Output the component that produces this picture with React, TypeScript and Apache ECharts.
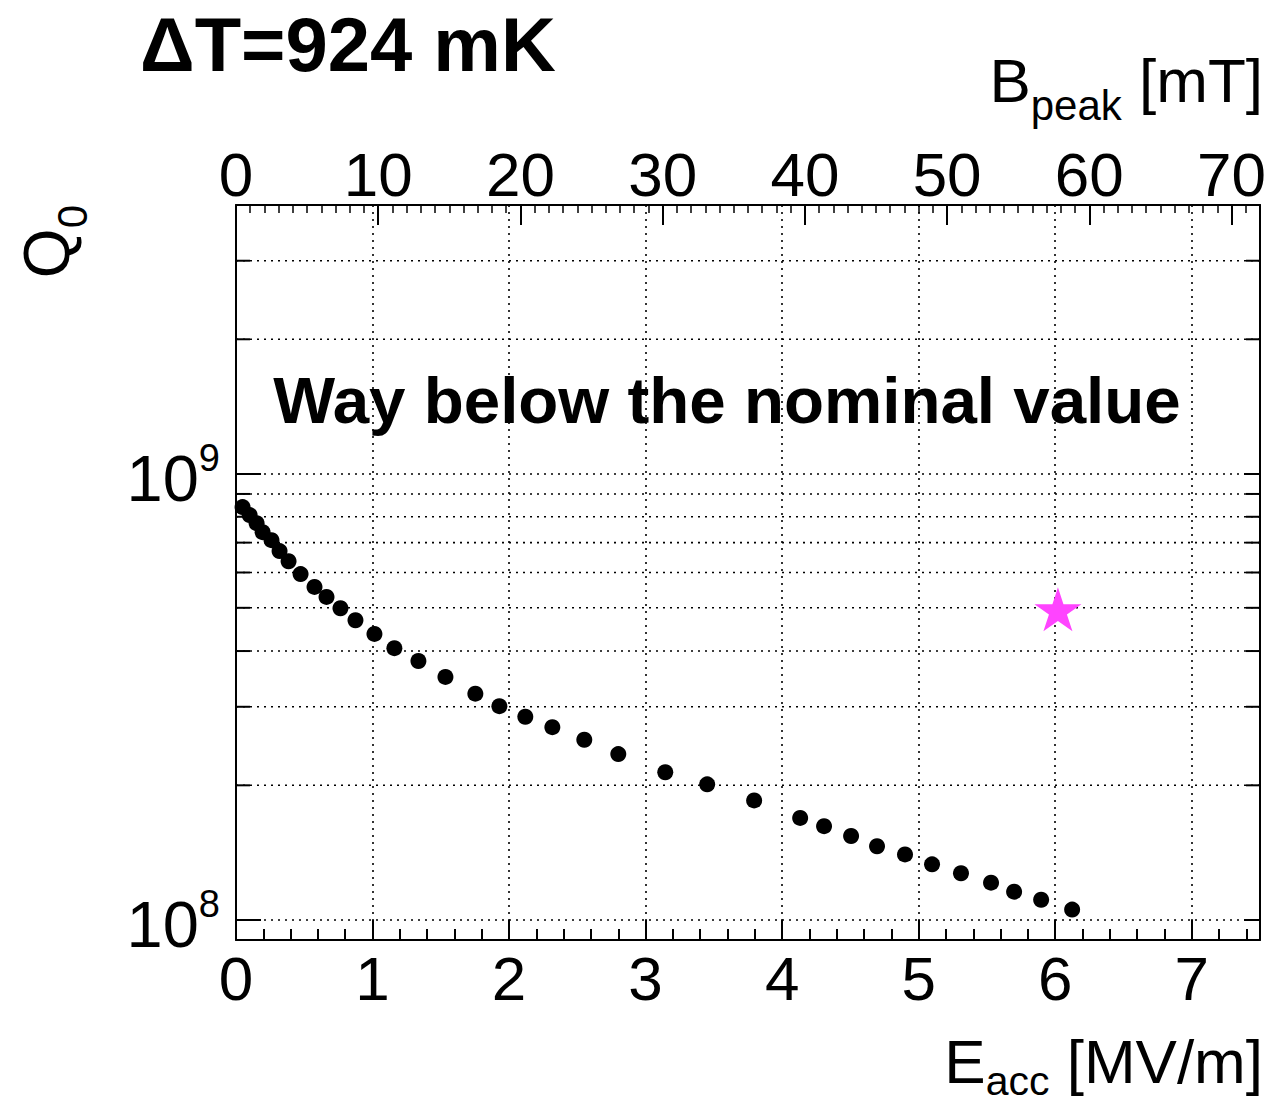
import React, { useEffect, useRef } from "react";
import * as echarts from "echarts";

// Accelerating gradient E_acc [MV/m]
const eacc = [
  0.048, 0.1, 0.151, 0.195, 0.26, 0.319, 0.385, 0.473, 0.575, 0.663, 0.765, 0.875,
  1.014, 1.16, 1.336, 1.534, 1.753, 1.929, 2.119, 2.317, 2.551, 2.8, 3.144, 3.451,
  3.795, 4.132, 4.307, 4.505, 4.695, 4.9, 5.098, 5.31, 5.53, 5.699, 5.897, 6.124,
];
// Quality factor Q0
const q0 = [
  8.41e8, 8.07e8, 7.74e8, 7.39e8, 7.09e8, 6.7e8, 6.36e8, 5.95e8, 5.57e8, 5.29e8, 4.99e8, 4.69e8,
  4.37e8, 4.06e8, 3.8e8, 3.5e8, 3.21e8, 3.01e8, 2.85e8, 2.7e8, 2.53e8, 2.35e8, 2.14e8, 2.01e8,
  1.85e8, 1.69e8, 1.62e8, 1.54e8, 1.46e8, 1.4e8, 1.33e8, 1.27e8, 1.21e8, 1.155e8, 1.108e8, 1.053e8,
];
// Nominal value marker
const nominalE = [6.02];
const nominalQ = [4.96e8];

// Axis ranges
const xRange = [0, 7.5];
const topRange = [0, 72];
const yRange = [9e7, 4e9];
const yMinorGrid = [2e8, 3e8, 4e8, 5e8, 6e8, 7e8, 8e8, 9e8, 2e9, 3e9];

const titleText = "ΔT=924 mK";
const noteText = "Way below the nominal value";

const FONT = "Liberation Sans";
const STAR =
  "path://M50,0 L61.2,34.5 L97.6,34.5 L68.2,55.9 L79.4,90.5 L50,69.1 L20.6,90.5 L31.8,55.9 L2.4,34.5 L38.8,34.5 Z";

export default function App() {
  const ref = useRef<HTMLDivElement>(null);
  useEffect(() => {
    if (!ref.current) return;
    const chart = echarts.init(ref.current, null, { renderer: "svg" });
    const dotted = { color: "#000", width: 1.6, type: [2, 5] as any };
    const axisLine = { show: true, onZero: false, lineStyle: { color: "#000", width: 2 } };
    const intFmt = (v: number) => (Math.abs(v - Math.round(v)) < 1e-6 ? String(Math.round(v)) : "");
    const subRich = (base: number, sub: number, h: number) => ({
      b: { fontSize: base, fontFamily: FONT, lineHeight: 60, fill: "#000" },
      s: { fontSize: sub, fontFamily: FONT, height: h, verticalAlign: "bottom", fill: "#000" },
    });
    chart.setOption({
      animation: false,
      backgroundColor: "#fff",
      textStyle: { fontFamily: FONT },
      grid: { left: 236, top: 205, width: 1024, height: 735, containLabel: false },
      xAxis: [
        {
          type: "value",
          position: "bottom",
          min: xRange[0],
          max: xRange[1],
          interval: 1,
          axisLine,
          axisTick: { show: true, inside: true, length: 20, lineStyle: { color: "#000", width: 2 } },
          minorTick: { show: true, splitNumber: 5, length: 11, lineStyle: { color: "#000", width: 2 } },
          splitLine: { show: true, lineStyle: dotted },
          axisLabel: {
            color: "#000",
            fontSize: 62,
            fontFamily: FONT,
            margin: 7,
            formatter: (v: number) => (v <= 7 ? intFmt(v) : ""),
          },
        },
        {
          type: "value",
          position: "top",
          min: topRange[0],
          max: topRange[1],
          interval: 10,
          axisLine,
          axisTick: { show: true, inside: true, length: 20, lineStyle: { color: "#000", width: 2 } },
          minorTick: { show: true, splitNumber: 10, length: 8, lineStyle: { color: "#000", width: 1.5 } },
          splitLine: { show: false },
          axisLabel: {
            color: "#000",
            fontSize: 62,
            fontFamily: FONT,
            margin: 0,
            formatter: (v: number) => (v <= 70 && v % 10 === 0 ? String(v) : ""),
          },
        },
      ],
      yAxis: [
        {
          type: "log",
          logBase: 10,
          min: yRange[0],
          max: yRange[1],
          position: "left",
          axisLine,
          axisTick: { show: true, inside: true, length: 25, lineStyle: { color: "#000", width: 2 } },
          splitLine: { show: true, lineStyle: dotted },
          axisLabel: {
            color: "#000",
            margin: 16,
            padding: [9, 0, 0, 0],
            formatter: (v: number) => {
              const l = Math.log10(v);
              if (Math.abs(l - Math.round(l)) > 1e-6) return "";
              return `{b|10}{s|${Math.round(l)}}`;
            },
            rich: {
              b: { fontSize: 65, fontFamily: FONT, lineHeight: 64, color: "#000" },
              s: { fontSize: 38, fontFamily: FONT, height: 24, verticalAlign: "top", color: "#000" },
            },
          },
        },
        {
          type: "log",
          logBase: 10,
          min: yRange[0],
          max: yRange[1],
          position: "right",
          axisLine,
          axisTick: { show: true, inside: true, length: 16, lineStyle: { color: "#000", width: 2 } },
          splitLine: { show: false },
          axisLabel: { show: false },
        },
      ],
      series: [
        {
          type: "custom",
          xAxisIndex: 0,
          yAxisIndex: 0,
          silent: true,
          z: 1,
          data: yMinorGrid.map((v) => [xRange[0], v]),
          renderItem: (_p: any, api: any) => {
            const v = api.value(1);
            const a = api.coord([xRange[0], v]);
            const b = api.coord([xRange[1], v]);
            return {
              type: "group",
              children: [
                {
                  type: "line",
                  shape: { x1: a[0], y1: a[1], x2: b[0], y2: b[1] },
                  style: { stroke: "#000", lineWidth: 1.6, lineDash: [2, 5] },
                },
                {
                  type: "line",
                  shape: { x1: a[0], y1: a[1], x2: a[0] + 14, y2: a[1] },
                  style: { stroke: "#000", lineWidth: 2 },
                },
                {
                  type: "line",
                  shape: { x1: b[0], y1: b[1], x2: b[0] - 14, y2: b[1] },
                  style: { stroke: "#000", lineWidth: 2 },
                },
              ],
            };
          },
        },
        {
          type: "scatter",
          xAxisIndex: 0,
          yAxisIndex: 0,
          symbol: "circle",
          symbolSize: 16,
          itemStyle: { color: "#000", opacity: 1 },
          z: 3,
          data: eacc.map((x, i) => [x, q0[i]]),
        },
        {
          type: "scatter",
          xAxisIndex: 0,
          yAxisIndex: 0,
          symbol: STAR,
          symbolSize: [47, 44],
          itemStyle: { color: "#ff44ff", opacity: 1 },
          z: 4,
          data: nominalE.map((x, i) => [x, nominalQ[i]]),
        },
      ],
      graphic: [
        {
          type: "text",
          x: 140,
          y: 44,
          style: {
            text: titleText,
            fontSize: 76,
            lineHeight: 76,
            fontWeight: "bold",
            fontFamily: FONT,
            fill: "#000",
            align: "left",
            verticalAlign: "middle",
          },
        },
        {
          type: "text",
          x: 727,
          y: 400,
          style: {
            text: noteText,
            fontSize: 65.5,
            fontWeight: "bold",
            fontFamily: FONT,
            fill: "#000",
            align: "center",
            verticalAlign: "middle",
          },
        },
        {
          type: "text",
          x: 1263,
          y: 80,
          style: {
            text: "{b|B}{s|peak}{b| [mT]}",
            align: "right",
            verticalAlign: "middle",
            rich: subRich(62, 42, 10),
          },
        },
        {
          type: "text",
          x: 1263,
          y: 1061,
          style: {
            text: "{b|E}{s|acc}{b| [MV/m]}",
            align: "right",
            verticalAlign: "middle",
            rich: subRich(62, 41, 20),
          },
        },
        {
          type: "text",
          x: 47,
          y: 205,
          rotation: Math.PI / 2,
          style: {
            text: "{b|Q}{s|0}",
            align: "right",
            verticalAlign: "middle",
            rich: subRich(64, 42, 10),
          },
        },
      ],
    });
    return () => chart.dispose();
  }, []);
  return (
    <div
      ref={ref}
      style={{ position: "absolute", left: 0, top: 0, width: 1278, height: 1103 }}
    />
  );
}
